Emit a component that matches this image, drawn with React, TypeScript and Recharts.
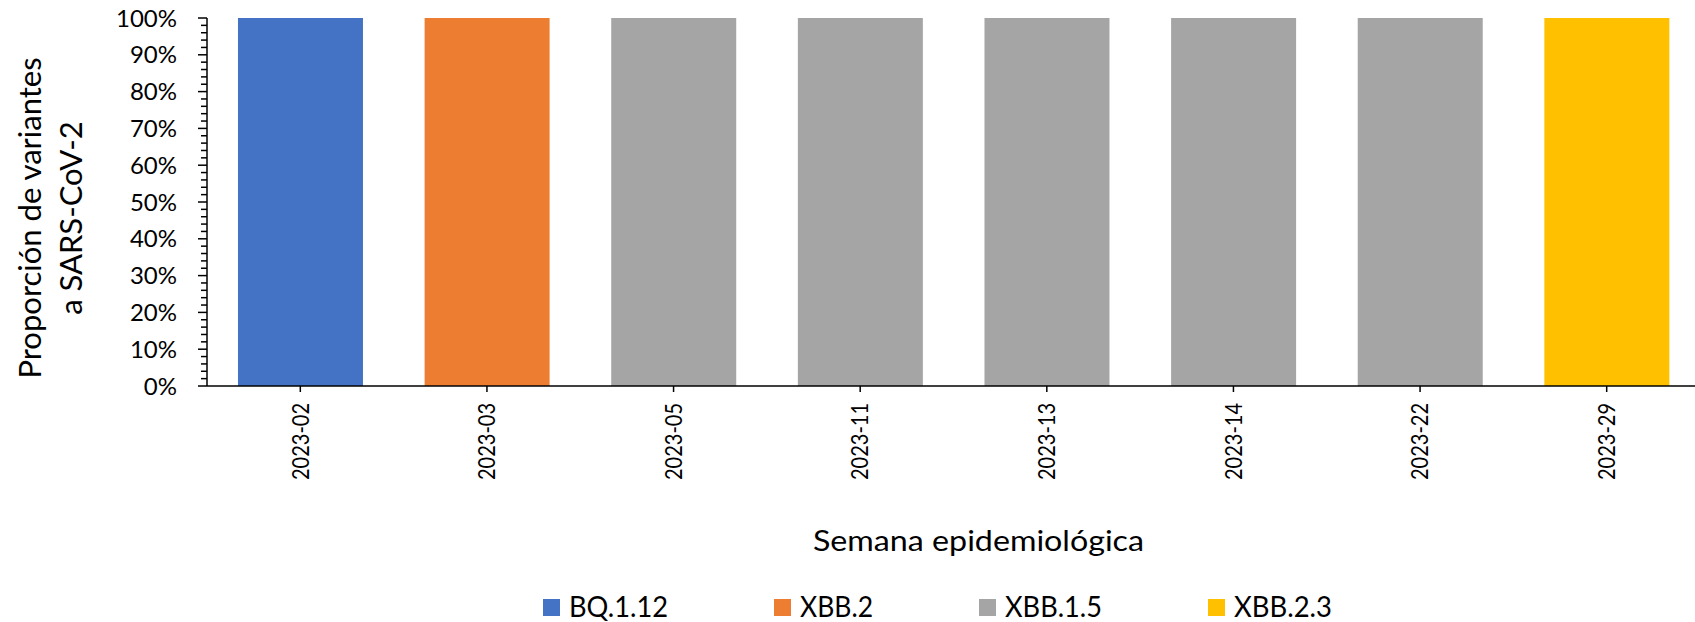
import { Bar, BarChart, Legend, XAxis, YAxis } from "recharts";

const weeks = ["2023-02", "2023-03", "2023-05", "2023-11", "2023-13", "2023-14", "2023-22", "2023-29"];
const bq112 = [100, 0, 0, 0, 0, 0, 0, 0];
const xbb2 = [0, 100, 0, 0, 0, 0, 0, 0];
const xbb15 = [0, 0, 100, 100, 100, 100, 100, 0];
const xbb23 = [0, 0, 0, 0, 0, 0, 0, 100];

const majorTicks = [0, 10, 20, 30, 40, 50, 60, 70, 80, 90, 100];
const minorStep = 2;
const yTicks = Array.from({ length: 100 / minorStep + 1 }, (_, i) => i * minorStep);

const variants = [
  { key: "bq112", name: "BQ.1.12", color: "#4472C4", values: bq112 },
  { key: "xbb2", name: "XBB.2", color: "#ED7D31", values: xbb2 },
  { key: "xbb15", name: "XBB.1.5", color: "#A5A5A5", values: xbb15 },
  { key: "xbb23", name: "XBB.2.3", color: "#FFC000", values: xbb23 },
];

const data = weeks.map((week, i) => {
  const row: Record<string, string | number> = { week };
  variants.forEach((v) => (row[v.key] = v.values[i]));
  return row;
});

const FONT = "Lato, 'Open Sans', sans-serif";
const legendTextWidths = [99, 73, 97, 98];

function XTick({ x, y, payload }: any) {
  return (
    <g>
      <line x1={x} x2={x} y1={y} y2={y + 6} stroke="#000" strokeWidth={1.5} />
      <text
        x={x}
        y={y + 17}
        transform={`rotate(-90 ${x} ${y + 17})`}
        textAnchor="end"
        dy="0.36em"
        fontSize={23}
        fontFamily={FONT}
        fill="#000"
        textLength={77}
        lengthAdjust="spacingAndGlyphs"
      >
        {payload.value}
      </text>
    </g>
  );
}

function YTick({ x, y, payload }: any) {
  const major = majorTicks.includes(payload.value);
  return (
    <g>
      <line x1={x - (major ? 9 : 6)} x2={x} y1={y} y2={y} stroke="#000" strokeWidth={1.5} />
      {major && (
        <text x={x - 30} y={y} dy="0.36em" textAnchor="end" fontSize={24} fontFamily={FONT} fill="#000">
          {`${payload.value}%`}
        </text>
      )}
    </g>
  );
}

function YTitle({ viewBox }: any) {
  const cy = viewBox.y + viewBox.height / 2 + 16;
  return (
    <g fontFamily={FONT} fontSize={31} fill="#000">
      <text x={41} y={cy} textAnchor="middle" transform={`rotate(-90 41 ${cy})`}>
        Proporción de variantes
      </text>
      <text x={82} y={cy} textAnchor="middle" transform={`rotate(-90 82 ${cy})`}>
        a SARS-CoV-2
      </text>
    </g>
  );
}

function XTitle({ viewBox }: any) {
  const cx = viewBox.x + viewBox.width / 2 + 25;
  return (
    <text
      x={cx}
      y={viewBox.y + 165}
      textAnchor="middle"
      fontFamily={FONT}
      fontSize={28}
      fill="#000"
      textLength={331}
      lengthAdjust="spacingAndGlyphs"
    >
      Semana epidemiológica
    </text>
  );
}

function LegendContent({ payload }: any) {
  const order = variants.map((v) => v.name);
  const sorted = [...(payload || [])].sort((a: any, b: any) => order.indexOf(a.value) - order.indexOf(b.value));
  let cursor = 543;
  const items = sorted.map((p: any, i: number) => {
    const x = cursor;
    const w = legendTextWidths[i];
    cursor += 17 + 9 + w + 106;
    return (
      <g key={p.value}>
        <rect x={x} y={17} width={17} height={17} fill={p.color} />
        <text
          x={x + 26}
          y={35}
          fontSize={28}
          fontFamily={FONT}
          fill="#000"
          textLength={w}
          lengthAdjust="spacingAndGlyphs"
        >
          {p.value}
        </text>
      </g>
    );
  });
  return (
    <svg width={1695} height={40} style={{ display: "block", overflow: "visible" }}>
      {items}
    </svg>
  );
}

export default function App() {
  return (
    <div style={{ width: 1695, height: 622, overflow: "hidden", position: "relative", background: "#fff" }}>
      <style>{`body{margin:0}`}</style>
      <BarChart
        width={1700}
        height={622}
        data={data}
        margin={{ top: 18, right: 0, bottom: 0, left: 0 }}
        barCategoryGap="16.6%"
      >
        <XAxis
          dataKey="week"
          height={196}
          interval={0}
          tickLine={false}
          tickSize={0}
          tickMargin={0}
          axisLine={{ stroke: "#000", strokeWidth: 1.5 }}
          tick={<XTick />}
          label={{ content: XTitle }}
        />
        <YAxis
          width={207}
          domain={[0, 100]}
          ticks={yTicks}
          interval={0}
          tickLine={false}
          tickSize={0}
          tickMargin={0}
          axisLine={{ stroke: "#000", strokeWidth: 1.5 }}
          tick={<YTick />}
          label={{ content: YTitle }}
        />
        {variants.map((v) => (
          <Bar key={v.key} dataKey={v.key} name={v.name} stackId="a" fill={v.color} isAnimationActive={false} />
        ))}
        <Legend
          verticalAlign="bottom"
          height={40}
          content={<LegendContent />}
          wrapperStyle={{ left: 0, bottom: 0, width: 1695, height: 40 }}
        />
      </BarChart>
    </div>
  );
}
